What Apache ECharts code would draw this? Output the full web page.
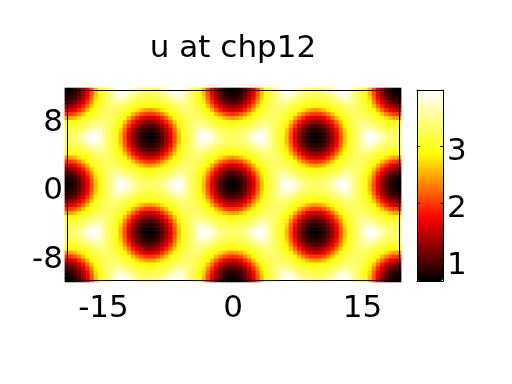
<!DOCTYPE html>
<html>
<head>
<meta charset="utf-8">
<script src="https://cdn.jsdelivr.net/npm/echarts@6.0.0/dist/echarts.min.js"></script>
<style>
body { margin: 0; background: #fff; }
#main { width: 512px; height: 384px; }
</style>
</head>
<body>
<div id="main"></div>
<script>
// one symmetric cell of the field: x 0..9.613, y 0..5.55
var xCols = [0, 0.481, 0.961, 1.442, 1.923, 2.403, 2.884, 3.365, 3.845, 4.326, 4.807,
    5.287, 5.768, 6.249, 6.729, 7.210, 7.691, 8.171, 8.652, 9.133, 9.613];
var yRows = [0, 0.4625, 0.925, 1.3875, 1.85, 2.3125, 2.775, 3.2375, 3.7, 4.1625, 4.625, 5.0875, 5.55];
var uCell = [
    [0.65, 0.69, 0.80, 1.00, 1.27, 1.63, 2.08, 2.59, 2.97, 3.16, 3.32, 3.58, 3.87, 4.00, 3.97, 3.84, 3.66, 3.49, 3.39, 3.34, 3.32],
    [0.69, 0.73, 0.84, 1.03, 1.30, 1.67, 2.12, 2.61, 2.98, 3.17, 3.32, 3.58, 3.82, 3.92, 3.89, 3.75, 3.58, 3.43, 3.34, 3.30, 3.29],
    [0.79, 0.83, 0.94, 1.14, 1.41, 1.78, 2.23, 2.70, 3.00, 3.18, 3.32, 3.53, 3.70, 3.77, 3.68, 3.55, 3.39, 3.29, 3.25, 3.21, 3.20],
    [0.97, 1.01, 1.12, 1.32, 1.60, 1.97, 2.39, 2.83, 3.04, 3.20, 3.32, 3.48, 3.56, 3.55, 3.43, 3.32, 3.25, 3.17, 3.11, 3.08, 3.06],
    [1.22, 1.26, 1.38, 1.58, 1.87, 2.23, 2.62, 2.94, 3.10, 3.23, 3.32, 3.41, 3.42, 3.35, 3.27, 3.19, 3.10, 3.02, 2.95, 2.90, 2.88],
    [1.55, 1.59, 1.71, 1.92, 2.20, 2.54, 2.88, 3.04, 3.17, 3.26, 3.32, 3.34, 3.30, 3.24, 3.15, 3.04, 2.93, 2.77, 2.59, 2.47, 2.42],
    [1.97, 2.01, 2.13, 2.34, 2.59, 2.88, 3.02, 3.14, 3.24, 3.29, 3.32, 3.29, 3.24, 3.14, 3.02, 2.88, 2.59, 2.34, 2.13, 2.01, 1.97],
    [2.42, 2.47, 2.59, 2.77, 2.93, 3.04, 3.15, 3.24, 3.30, 3.34, 3.32, 3.26, 3.17, 3.04, 2.88, 2.54, 2.20, 1.92, 1.71, 1.59, 1.55],
    [2.88, 2.90, 2.95, 3.02, 3.10, 3.19, 3.27, 3.35, 3.42, 3.41, 3.32, 3.23, 3.10, 2.94, 2.62, 2.23, 1.87, 1.58, 1.38, 1.26, 1.22],
    [3.06, 3.08, 3.11, 3.17, 3.25, 3.32, 3.43, 3.55, 3.56, 3.48, 3.32, 3.20, 3.04, 2.83, 2.39, 1.97, 1.60, 1.32, 1.12, 1.01, 0.97],
    [3.20, 3.21, 3.25, 3.29, 3.39, 3.55, 3.68, 3.77, 3.70, 3.53, 3.32, 3.18, 3.00, 2.70, 2.23, 1.78, 1.41, 1.14, 0.94, 0.83, 0.79],
    [3.29, 3.30, 3.34, 3.43, 3.58, 3.75, 3.89, 3.92, 3.82, 3.58, 3.32, 3.17, 2.98, 2.61, 2.12, 1.67, 1.30, 1.03, 0.84, 0.73, 0.69],
    [3.32, 3.34, 3.39, 3.49, 3.66, 3.84, 3.97, 4.00, 3.87, 3.58, 3.32, 3.16, 2.97, 2.59, 2.08, 1.63, 1.27, 1.00, 0.80, 0.69, 0.65]
];
var xRange = [-19.226, 19.226];
var yRange = [-11.1, 11.1];
var uRange = [0.63, 4.0];
var xTicks = [-15, 0, 15];
var yTicks = [-8, 0, 8];
var cbTicks = [1, 2, 3];
var titleText = 'u at chp12';

var chart = echarts.init(document.getElementById('main'));
var FONT = 'DejaVu Sans';

// mirror the cell across its edges to fill the plot
function unfold(cols, k) {
    var n = cols.length - 1;
    var period = 2 * cols[n];
    var a = Math.abs(k);
    var q = Math.floor(a / (2 * n));
    var r = a % (2 * n);
    var idx = r <= n ? r : 2 * n - r;
    var pos = q * period + (r <= n ? cols[r] : period - cols[2 * n - r]);
    return [k < 0 ? -pos : pos, idx];
}

function buildField() {
    var data = [];
    var nx = Math.round(xRange[1] / xCols[1]);
    var ny = Math.round(yRange[1] / yRows[1]);
    for (var m = -ny; m <= ny; m++) {
        var yy = unfold(yRows, m);
        for (var k = -nx; k <= nx; k++) {
            var xx = unfold(xCols, k);
            data.push([xx[0], yy[0], uCell[yy[1]][xx[1]]]);
        }
    }
    return data;
}

function renderCell(params, api) {
    var c = api.coord([api.value(0), api.value(1)]);
    var s = api.size([xCols[1], yRows[1]]);
    return {
        type: 'rect',
        shape: { x: c[0] - s[0] / 2 - 0.3, y: c[1] - s[1] / 2 - 0.3, width: s[0] + 0.6, height: s[1] + 0.6 },
        style: { fill: api.visual('color') }
    };
}

function frameAxis(gridIndex, position, min, max) {
    return {
        type: 'value', gridIndex: gridIndex, position: position, min: min, max: max, z: 10,
        axisLine: { show: true, onZero: false, lineStyle: { color: '#000', width: 1 } },
        axisTick: { show: false }, axisLabel: { show: false }, splitLine: { show: false }
    };
}

var labelStyle = { color: '#000', fontSize: 31, fontFamily: FONT };

var xBottom = frameAxis(0, 'bottom', xRange[0], xRange[1]);
xBottom.axisLabel = Object.assign({ show: true, customValues: xTicks, margin: 13 }, labelStyle);
var yLeft = frameAxis(0, 'left', yRange[0], yRange[1]);
yLeft.axisLabel = Object.assign({ show: true, customValues: yTicks, margin: 4,
    verticalAlign: 'top', lineHeight: 12 }, labelStyle);

var cbRight = frameAxis(1, 'right', uRange[0], uRange[1]);
cbRight.axisTick = { show: true, customValues: cbTicks, inside: true, length: 3, lineStyle: { color: '#000' } };
cbRight.axisLabel = Object.assign({ show: true, customValues: cbTicks, margin: 4,
    verticalAlign: 'top', lineHeight: 11 }, labelStyle);
var cbLeft = frameAxis(1, 'left', uRange[0], uRange[1]);
cbLeft.axisTick = { show: true, customValues: cbTicks, inside: true, length: 3, lineStyle: { color: '#000' } };

var option = {
    animation: false,
    backgroundColor: '#fff',
    title: {
        text: titleText,
        left: 228,
        top: 28,
        textAlign: 'center',
        textStyle: { color: '#000', fontSize: 31, fontWeight: 'normal', fontFamily: FONT }
    },
    grid: [
        { left: 67, top: 90, width: 332, height: 190, outerBoundsMode: 'none' },
        { left: 417, top: 90, width: 26, height: 191, outerBoundsMode: 'none' }
    ],
    xAxis: [
        xBottom,
        frameAxis(0, 'top', xRange[0], xRange[1]),
        frameAxis(1, 'bottom', 0, 1),
        frameAxis(1, 'top', 0, 1)
    ],
    yAxis: [
        yLeft,
        frameAxis(0, 'right', yRange[0], yRange[1]),
        cbRight,
        cbLeft
    ],
    visualMap: {
        type: 'continuous',
        min: uRange[0],
        max: uRange[1],
        dimension: 2,
        seriesIndex: 0,
        orient: 'vertical',
        left: 417,
        top: 90,
        padding: 0,
        itemWidth: 26,
        itemHeight: 191,
        calculable: false,
        hoverLink: false,
        text: null,
        showLabel: false,
        inRange: { color: ['#000000', '#ff0000', '#ffff00', '#ffffff'] }
    },
    series: [
        {
            type: 'custom',
            xAxisIndex: 0,
            yAxisIndex: 0,
            clip: true,
            encode: { x: 0, y: 1 },
            renderItem: renderCell,
            data: buildField()
        }
    ]
};
chart.setOption(option);
</script>
</body>
</html>
